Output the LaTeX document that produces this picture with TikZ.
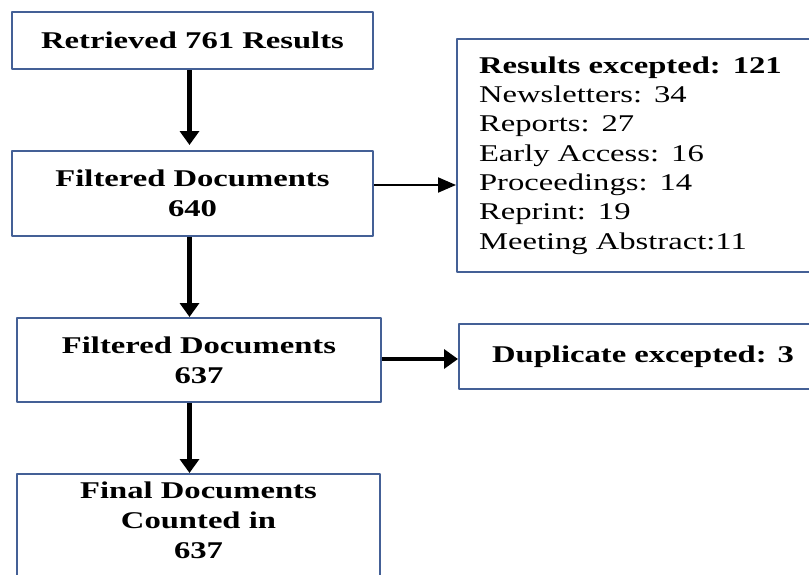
\documentclass[tikz,border=0pt]{standalone}
\usepackage{fontspec}
\setmainfont{Liberation Serif}[FakeStretch=1.36]
\usepackage{tikz}
\usetikzlibrary{arrows.meta}
\definecolor{boxcol}{RGB}{68,96,150}

\begin{document}
\begin{tikzpicture}[x=1pt,y=-1pt,line join=bevel,
  flowbox/.style={draw=boxcol,line width=2pt,align=center,inner sep=0pt,
    font=\fontsize{24pt}{30pt}\selectfont\bfseries},
  listbox/.style={draw=boxcol,line width=2pt,align=left,inner ysep=0pt,
    font=\fontsize{24pt}{29.3pt}\selectfont},
  bigarrow/.style={-{Triangle[length=14pt,width=19pt]},line width=4.5pt},
  smallarrow/.style={-{Triangle[length=18pt,width=15pt]},line width=2pt}]
  \clip (0,0) rectangle (809,574);
  \coordinate (axis) at (189.5,0);
%%
  % Node: retrieved
  \node[flowbox,minimum width=361pt,minimum height=57pt] (retrieved) at (192.5,40.5)
    {Retrieved 761 Results};
  % Node: filt1
  \node[flowbox,minimum width=361pt,minimum height=85pt] (filt1) at (192.5,193.5)
    {Filtered Documents\\640};
  % Node: filt2
  \node[flowbox,minimum width=364pt,minimum height=84pt] (filt2) at (199,360)
    {Filtered Documents\\637};
  % Node: final
  \node[flowbox,anchor=north,minimum width=363pt,text height=84pt,text depth=43pt]
    (final) at (198.5,473) {Final Documents\\Counted in\\637};
  % Node: excepted
  \node[listbox,anchor=north west,minimum width=370pt,minimum height=233pt,
    inner xsep=22pt,text width=326pt] (excepted) at (456,38)
    {\textbf{Results excepted: 121}\\Newsletters: 34\\Reports: 27\\Early Access: 16\\
     Proceedings: 14\\Reprint: 19\\Meeting Abstract:11};
  % Node: duplicate
  \node[flowbox,anchor=west,minimum width=368pt,minimum height=65pt] (duplicate)
    at (458,356.5) {Duplicate excepted: 3};
%
  % Edge: retrieved -> filt1
  \draw[bigarrow] (retrieved.south -| axis) -- ([yshift=5pt]filt1.north -| axis);
  % Edge: filt1 -> filt2
  \draw[bigarrow] (filt1.south -| axis) -- (filt2.north -| axis);
  % Edge: filt2 -> final
  \draw[bigarrow] (filt2.south -| axis) -- (final.north -| axis);
  % Edge: filt1 -> excepted
  \draw[smallarrow] ([yshift=8.5pt]filt1.east) -- ([yshift=8.5pt]filt1.east -| excepted.west);
  % Edge: filt2 -> duplicate
  \draw[bigarrow,line width=4pt] ([yshift=1pt]filt2.east) -- ([yshift=1pt]filt2.east -| duplicate.west);
%
\end{tikzpicture}
\end{document}
